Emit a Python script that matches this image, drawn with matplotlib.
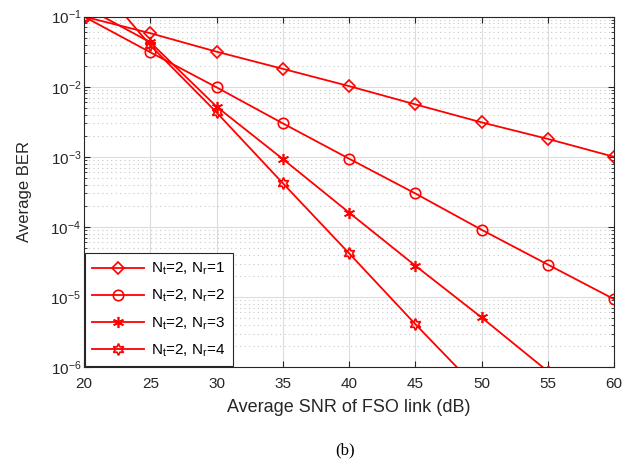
import matplotlib
matplotlib.use("Agg")
from matplotlib import pyplot as plt
from matplotlib.ticker import LogLocator, NullFormatter

plt.rcParams['font.family'] = ['Liberation Sans', 'DejaVu Sans']
plt.rcParams['mathtext.fontset'] = 'custom'
plt.rcParams['mathtext.rm'] = 'Liberation Sans'
plt.rcParams['mathtext.it'] = 'Liberation Sans'

# data
snr = [20, 25, 30, 35, 40, 45, 50, 55, 60]
ber_nr1 = [0.1, 0.058, 0.0316, 0.018, 0.0102, 0.0056, 0.0031, 0.0018, 0.001]
ber_nr2 = [0.1, 0.031, 0.0098, 0.0030, 0.00094, 0.00030, 9.1e-5, 2.9e-5, 9.3e-6]
ber_nr3 = [0.14, 0.043, 0.0052, 0.00093, 0.00016, 2.8e-5, 5.1e-6, 8.7e-7, 1.5e-7]
ber_nr4 = [0.5, 0.039, 0.0043, 0.00042, 4.2e-5, 4.1e-6, 4.3e-7, 4.5e-8, 5e-9]
labels = [r'N$_t$=2, N$_r$=1', r'N$_t$=2, N$_r$=2',
          r'N$_t$=2, N$_r$=3', r'N$_t$=2, N$_r$=4']

fig = plt.figure(figsize=(6.32, 4.62), dpi=100)
ax = fig.add_axes([0.133, 0.2056, 0.8385, 0.7584])

red = '#ff0000'
style = dict(color=red, lw=1.3, markerfacecolor='none',
             markeredgecolor=red, markeredgewidth=1.2)
ax.semilogy(snr, ber_nr1, marker='D', markersize=6, label=labels[0], **style)
ax.semilogy(snr, ber_nr2, marker='o', markersize=7.5, label=labels[1], **style)
ax.semilogy(snr, ber_nr3, marker=(6, 2, 0), markersize=8, label=labels[2], **style)
ax.semilogy(snr, ber_nr4, marker=(6, 1, 0), markersize=8.5, label=labels[3], **style)

ax.set_xlim(20, 60)
ax.set_ylim(1e-6, 1e-1)
ax.set_xticks(range(20, 61, 5))
ax.yaxis.set_major_locator(LogLocator(base=10, numticks=10))
ax.yaxis.set_minor_locator(LogLocator(base=10, subs=range(2, 10), numticks=100))
ax.yaxis.set_minor_formatter(NullFormatter())

ax.grid(True, which='major', color='#dcdcdc', lw=0.8, ls='-')
ax.grid(True, which='minor', axis='y', color='#c8c8c8', lw=0.8, ls=(0, (1, 3)))
ax.set_axisbelow(True)

ax.tick_params(which='both', direction='in', top=True, right=True,
               labelsize=11, labelcolor='#262626', color='#262626')
ax.tick_params(axis='x', which='major', length=4, pad=7)
ax.tick_params(axis='y', which='major', length=4, pad=2)
ax.tick_params(which='minor', length=2)
for s in ax.spines.values():
    s.set_color('#262626')
    s.set_linewidth(0.8)

ax.set_xlabel('Average SNR of FSO link (dB)', fontsize=13, color='#262626', labelpad=6)
ax.set_ylabel('Average BER', fontsize=12, color='#262626', labelpad=13)

leg = ax.legend(loc='lower left', fontsize=11, fancybox=False, framealpha=1,
                edgecolor='#262626', handlelength=3.4, handletextpad=0.4,
                borderaxespad=0.05, labelspacing=0.7, borderpad=0.5)
leg.get_frame().set_linewidth(0.8)

fig.text(0.546, 0.026, '(b)', family='Liberation Serif', fontsize=12,
         ha='center', va='center')

fig.savefig('out.png', dpi=100)
